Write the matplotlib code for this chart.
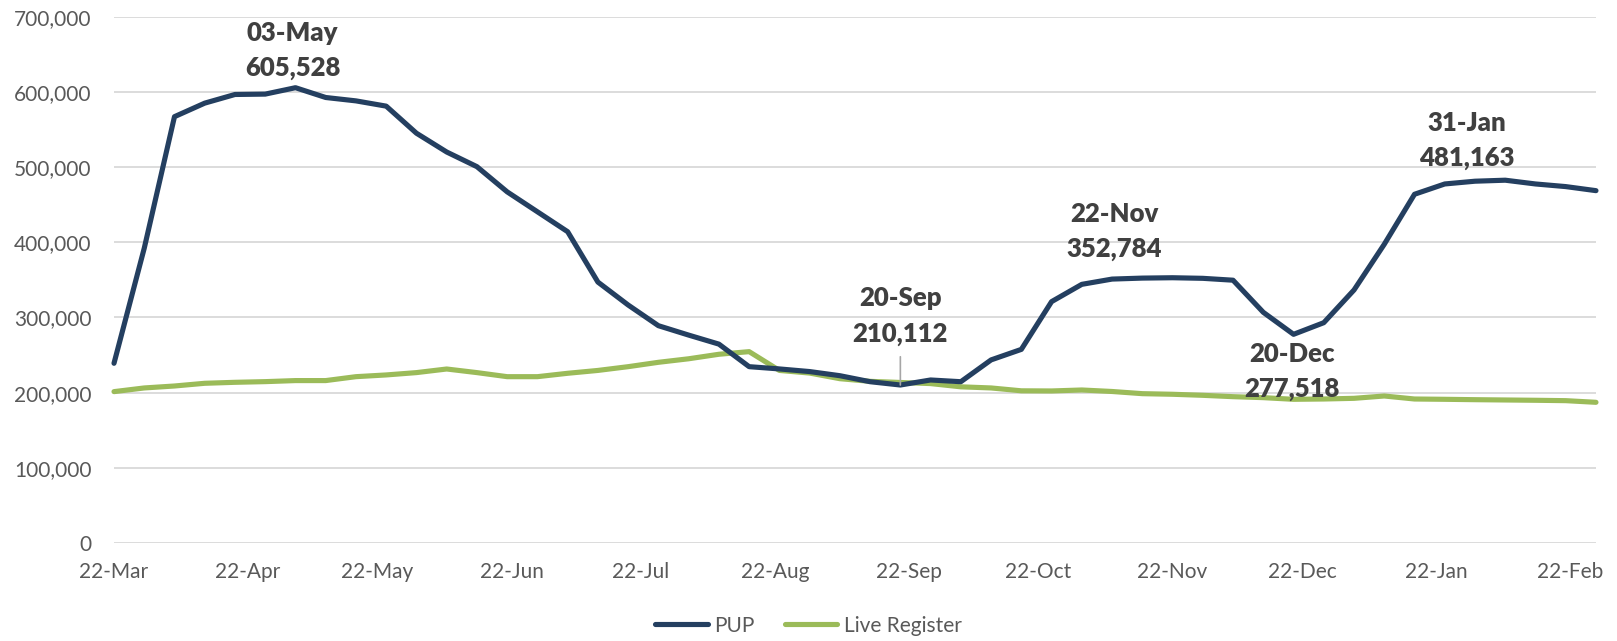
import matplotlib
matplotlib.use("Agg")
import matplotlib.pyplot as plt
import matplotlib.dates as mdates
import pandas as pd

# Weekly counts (Sundays), 22 Mar 2020 - 28 Feb 2021
weeks = pd.date_range("2020-03-22", periods=50, freq="7D")

pup = [239000, 392000, 567000, 585000, 596500, 597000, 605528, 592500, 588000, 581000,
       545000, 520000, 500500, 467000, 440500, 414000, 347000, 316500, 289000, 276500,
       264500, 234500, 231500, 228000, 222500, 214500, 210112, 216800, 214500, 243500,
       257500, 321000, 344000, 351000, 352300, 352784, 352000, 349500, 306800, 277518,
       293000, 336500, 397300, 463800, 477500, 481163, 482500, 477500, 474000, 468600]

live_register = [201300, 206200, 208800, 212400, 213700, 214600, 216000, 216000, 221200, 223500,
                 226600, 231400, 226600, 221200, 221200, 225700, 229500, 234500, 240300, 245000,
                 251000, 254500, 229500, 226000, 218500, 215000, 213500, 212000, 207700, 206200,
                 202400, 202200, 203500, 201500, 198600, 197800, 196400, 194600, 193300, 191100,
                 191500, 192400, 195500, 191500, 191100, 190600, 190200, 189800, 189300, 187100]

# Highlighted PUP weeks: index -> label offset in pixels (dx, dy)
callouts = {6: (-3, 37), 26: (0, 69), 35: (-58, 46), 39: (-2, -37), 45: (-8, 41)}

PUP_COLOR = "#243F60"
LR_COLOR = "#9BBB59"
TEXT_GRAY = "#595959"
LABEL_GRAY = "#404040"

plt.rcParams["font.family"] = ["Lato", "DejaVu Sans"]

fig = plt.figure(figsize=(16.17, 6.41), dpi=100)
ax = fig.add_axes([0.0705, 0.1529, 0.9165, 0.8211])

ax.plot(weeks, pup, color=PUP_COLOR, lw=3.7, solid_capstyle="round",
        solid_joinstyle="round", label="PUP", zorder=3, clip_on=False)
ax.plot(weeks, live_register, color=LR_COLOR, lw=3.7, solid_capstyle="round",
        solid_joinstyle="round", label="Live Register", zorder=2, clip_on=False)

ax.set_ylim(0, 700000)
ax.set_xlim(weeks[0], weeks[-1])
ax.yaxis.set_major_locator(plt.MultipleLocator(100000))
ax.yaxis.set_major_formatter(plt.FuncFormatter(lambda v, _: f"{int(v):,}"))
ax.xaxis.set_major_locator(mdates.MonthLocator(bymonthday=22))
ax.xaxis.set_major_formatter(mdates.DateFormatter("%d-%b"))

ax.grid(axis="y", color="#D9D9D9", lw=1.3)
ax.set_axisbelow(True)
for s in ax.spines.values():
    s.set_visible(False)
ax.tick_params(axis="both", length=0, labelsize=15, colors=TEXT_GRAY)
ax.tick_params(axis="y", pad=16)
ax.tick_params(axis="x", pad=14)

for i, (dx, dy) in callouts.items():
    d = weeks[i]
    v = pup[i]
    text = f"{d:%d-%b}\n{v:,}"
    kw = {}
    if i == 26:
        kw["arrowprops"] = dict(arrowstyle="-", color="#A6A6A6", lw=1.2,
                                shrinkA=6, shrinkB=0)
    ax.annotate(text, xy=(d, v), xytext=(dx, dy), textcoords="offset pixels",
                ha="center", va="center", fontsize=18.5, fontweight="heavy",
                color=LABEL_GRAY, linespacing=1.55, zorder=5, **kw)

leg = fig.legend(loc="center", bbox_to_anchor=(0.5, 0.024), ncol=2, frameon=False,
                 fontsize=15, handlelength=2.5, handletextpad=0.3,
                 columnspacing=1.5)
for t in leg.get_texts():
    t.set_color(TEXT_GRAY)

fig.savefig("out.png", dpi=100)
